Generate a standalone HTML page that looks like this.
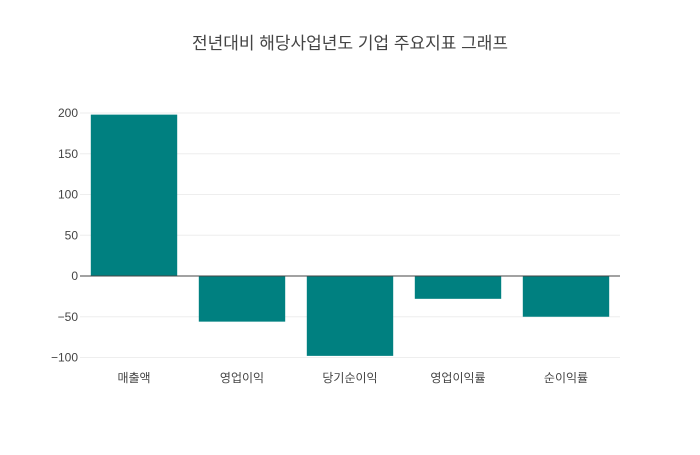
<!DOCTYPE html>
<html><head><meta charset="utf-8">
<style>
html,body{margin:0;padding:0;background:#fff;}
svg text{font-family:"Liberation Sans","Noto Sans CJK KR",sans-serif;fill:#444;}
</style></head>
<body>
<svg id="chart" width="700" height="450">
<text x="350" y="49" text-anchor="middle" font-size="17">전년대비 해당사업년도 기업 주요지표 그래프</text>
<g id="grid"></g><g id="bars"></g><g id="axes"></g>
</svg>
<script>
const categories=["매출액","영업이익","당기순이익","영업이익률","순이익률"];
const values=[198,-56,-98,-28,-50];
const ticks=[-100,-50,0,50,100,150,200];
const L=80,R=620,Y0=276,S=0.815;
const y=v=>Y0-v*S;
const bw=(R-L)/categories.length;
const x=i=>L+i*bw;
const ns="http://www.w3.org/2000/svg";
const grid=document.getElementById('grid'),bars=document.getElementById('bars'),axes=document.getElementById('axes');
ticks.forEach(t=>{
 const ln=document.createElementNS(ns,'line');
 
 
 ln.setAttribute('x1',L);ln.setAttribute('x2',R);ln.setAttribute('y1',y(t));ln.setAttribute('y2',y(t));
 ln.setAttribute('stroke',t===0?'#444':'#eee');ln.setAttribute('stroke-width',1);
 (t===0?axes:grid).appendChild(ln);
 const tx=document.createElementNS(ns,'text');
 
 
 tx.setAttribute('x',L-2);tx.setAttribute('y',y(t)+4);tx.setAttribute('text-anchor','end');tx.setAttribute('font-size','12');
 tx.textContent=t<0?'−'+Math.abs(t):String(t);
 axes.appendChild(tx);
});
categories.forEach((c,i)=>{
 const v=values[i];
 const r=document.createElementNS(ns,'rect');
 
 
 r.setAttribute('x',x(i)+bw*0.1);r.setAttribute('width',bw*0.8);
 r.setAttribute('y',Math.min(y(v),y(0)));r.setAttribute('height',Math.abs(y(v)-y(0)));
 r.setAttribute('fill','#008080');
 bars.appendChild(r);
 const tx=document.createElementNS(ns,'text');
 
 
 tx.setAttribute('x',x(i)+bw/2);tx.setAttribute('y',382);tx.setAttribute('text-anchor','middle');tx.setAttribute('font-size','12');
 tx.textContent=c;
 axes.appendChild(tx);
});
axes.appendChild(axes.firstChild);
</script>
</body></html>
